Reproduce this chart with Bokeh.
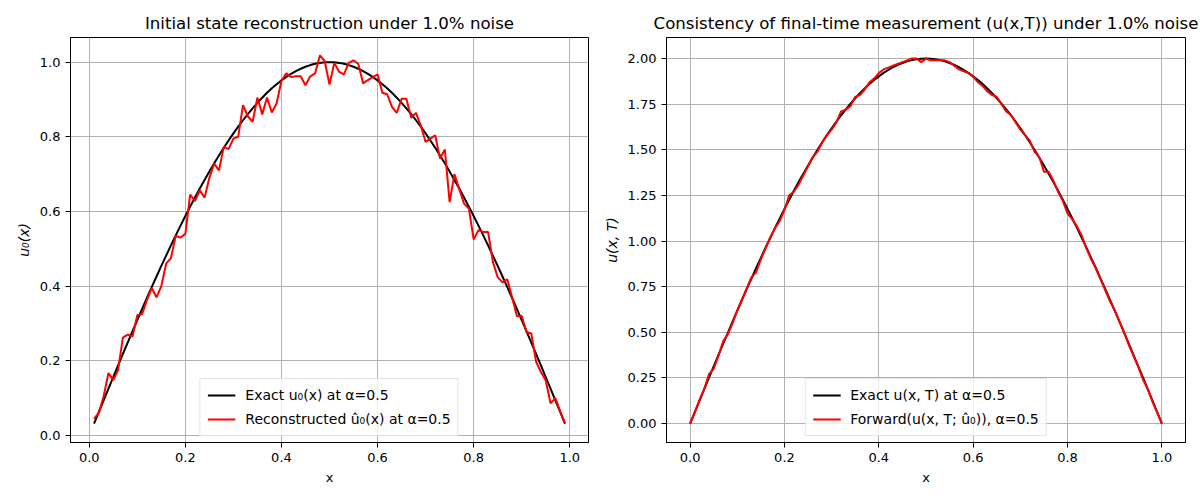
import numpy as np
from bokeh.plotting import figure
from bokeh.layouts import row
from bokeh.models import Range1d, FixedTicker, NumeralTickFormatter, Legend, LegendItem
from bokeh.embed import file_html
from bokeh.resources import INLINE

# ---------------- data ----------------
x_left = [round(0.01 * k, 2) for k in range(1, 100)]
x_right = [round(0.01 * k, 2) for k in range(0, 101)]

exact_u0 = [
    0.0314, 0.0628, 0.0941, 0.1253, 0.1564, 0.1874, 0.2181, 0.2487, 0.2790, 0.3090,
    0.3387, 0.3681, 0.3971, 0.4258, 0.4540, 0.4818, 0.5090, 0.5358, 0.5621, 0.5878,
    0.6129, 0.6374, 0.6613, 0.6845, 0.7071, 0.7290, 0.7501, 0.7705, 0.7902, 0.8090,
    0.8271, 0.8443, 0.8607, 0.8763, 0.8910, 0.9048, 0.9178, 0.9298, 0.9409, 0.9511,
    0.9603, 0.9686, 0.9759, 0.9823, 0.9877, 0.9921, 0.9956, 0.9980, 0.9995, 1.0000,
    0.9995, 0.9980, 0.9956, 0.9921, 0.9877, 0.9823, 0.9759, 0.9686, 0.9603, 0.9511,
    0.9409, 0.9298, 0.9178, 0.9048, 0.8910, 0.8763, 0.8607, 0.8443, 0.8271, 0.8090,
    0.7902, 0.7705, 0.7501, 0.7290, 0.7071, 0.6845, 0.6613, 0.6374, 0.6129, 0.5878,
    0.5621, 0.5358, 0.5090, 0.4818, 0.4540, 0.4258, 0.3971, 0.3681, 0.3387, 0.3090,
    0.2790, 0.2487, 0.2181, 0.1874, 0.1564, 0.1253, 0.0941, 0.0628, 0.0314,
]

recon_u0 = [
    0.045, 0.060, 0.105, 0.167, 0.148, 0.175, 0.262, 0.270, 0.265, 0.322,
    0.325, 0.362, 0.395, 0.370, 0.400, 0.460, 0.475, 0.535, 0.530, 0.540,
    0.645, 0.628, 0.657, 0.637, 0.690, 0.728, 0.710, 0.773, 0.767, 0.795,
    0.800, 0.885, 0.855, 0.840, 0.905, 0.860, 0.905, 0.865, 0.890, 0.950,
    0.970, 0.960, 0.962, 0.962, 0.938, 0.962, 0.970, 1.018, 1.003, 0.940,
    0.998, 0.974, 0.967, 0.998, 1.005, 0.995, 0.943, 0.952, 0.960, 0.967,
    0.918, 0.914, 0.880, 0.864, 0.902, 0.902, 0.851, 0.864, 0.830, 0.786,
    0.795, 0.804, 0.742, 0.766, 0.625, 0.700, 0.660, 0.621, 0.608, 0.525,
    0.550, 0.545, 0.545, 0.465, 0.424, 0.410, 0.418, 0.370, 0.320, 0.320,
    0.277, 0.273, 0.197, 0.170, 0.147, 0.086, 0.100, 0.065, 0.032,
]

exact_uT = [
    0.000, 0.063, 0.126, 0.188, 0.251, 0.313, 0.375, 0.436, 0.497, 0.558,
    0.618, 0.677, 0.736, 0.794, 0.852, 0.908, 0.964, 1.018, 1.072, 1.124,
    1.176, 1.226, 1.275, 1.323, 1.369, 1.414, 1.458, 1.500, 1.541, 1.580,
    1.618, 1.654, 1.689, 1.721, 1.753, 1.782, 1.810, 1.836, 1.860, 1.882,
    1.902, 1.921, 1.937, 1.952, 1.965, 1.975, 1.984, 1.991, 1.996, 1.999,
    2.000, 1.999, 1.996, 1.991, 1.984, 1.975, 1.965, 1.952, 1.937, 1.921,
    1.902, 1.882, 1.860, 1.836, 1.810, 1.782, 1.753, 1.721, 1.689, 1.654,
    1.618, 1.580, 1.541, 1.500, 1.458, 1.414, 1.369, 1.323, 1.275, 1.226,
    1.176, 1.124, 1.072, 1.018, 0.964, 0.908, 0.852, 0.794, 0.736, 0.677,
    0.618, 0.558, 0.497, 0.436, 0.375, 0.313, 0.251, 0.188, 0.126, 0.063,
    0.000,
]

forward_uT = [
    0.000, 0.060, 0.130, 0.190, 0.270, 0.300, 0.370, 0.450, 0.490, 0.550,
    0.620, 0.680, 0.740, 0.800, 0.830, 0.900, 0.960, 1.020, 1.070, 1.110,
    1.170, 1.250, 1.270, 1.310, 1.360, 1.410, 1.460, 1.490, 1.540, 1.580,
    1.610, 1.650, 1.710, 1.720, 1.740, 1.790, 1.800, 1.830, 1.870, 1.890,
    1.920, 1.940, 1.950, 1.960, 1.970, 1.980, 1.990, 2.000, 2.000, 1.980,
    2.000, 1.990, 1.990, 1.990, 1.990, 1.980, 1.960, 1.940, 1.930, 1.920,
    1.900, 1.870, 1.850, 1.820, 1.800, 1.790, 1.750, 1.710, 1.690, 1.650,
    1.610, 1.580, 1.550, 1.490, 1.460, 1.380, 1.380, 1.330, 1.270, 1.220,
    1.150, 1.120, 1.080, 1.030, 0.960, 0.900, 0.850, 0.790, 0.730, 0.670,
    0.620, 0.560, 0.500, 0.430, 0.370, 0.310, 0.240, 0.190, 0.120, 0.060,
    0.000,
]

x_ticks = [0.0, 0.2, 0.4, 0.6, 0.8, 1.0]
y_ticks_left = [0.0, 0.2, 0.4, 0.6, 0.8, 1.0]
y_ticks_right = [0.0, 0.25, 0.5, 0.75, 1.0, 1.25, 1.5, 1.75, 2.0]

FONT = "DejaVu Sans"


def style(p, xlabel, ylabel, yticks, yfmt):
    p.title.text_font = FONT
    p.title.text_font_size = "16.6px"
    p.title.text_font_style = "normal"
    p.title.align = "center"
    p.title.text_color = "black"
    p.outline_line_color = "black"
    p.outline_line_width = 1
    p.background_fill_color = "white"
    p.border_fill_color = "white"
    for ax in (p.xaxis[0], p.yaxis[0]):
        ax.axis_line_color = "black"
        ax.major_tick_out = 5
        ax.major_tick_in = 0
        ax.minor_tick_line_color = None
        ax.major_label_text_font = FONT
        ax.major_label_text_font_size = "13px"
        ax.major_label_text_color = "black"
        ax.axis_label_text_font = FONT
        ax.axis_label_text_font_size = "13px"
        ax.axis_label_text_font_style = "normal"
        ax.axis_label_text_color = "black"
    p.xaxis[0].axis_label = xlabel
    p.yaxis[0].axis_label = ylabel
    p.yaxis[0].axis_label_text_font_style = "italic"
    p.yaxis[0].axis_label_text_font_size = "14px"
    p.xaxis[0].ticker = FixedTicker(ticks=x_ticks)
    p.xaxis[0].formatter = NumeralTickFormatter(format="0.0")
    p.yaxis[0].ticker = FixedTicker(ticks=yticks)
    p.yaxis[0].formatter = NumeralTickFormatter(format=yfmt)
    p.xgrid.grid_line_color = "#b0b0b0"
    p.ygrid.grid_line_color = "#b0b0b0"
    p.xgrid.grid_line_width = 1
    p.ygrid.grid_line_width = 1


def make_legend(p, items):
    leg = Legend(items=items, location="bottom_center")
    leg.label_text_font = FONT
    leg.label_text_font_size = "14px"
    leg.label_text_color = "black"
    leg.border_line_color = "#cccccc"
    leg.border_line_width = 1
    leg.background_fill_alpha = 0.8
    leg.glyph_width = 28
    leg.glyph_height = 18
    leg.label_standoff = 10
    leg.label_height = 18
    leg.padding = 7
    leg.spacing = 6
    leg.margin = 6
    p.add_layout(leg, "center")


# ---------------- left ----------------
p1 = figure(width=600, height=500, output_backend="svg", toolbar_location=None,
            title="Initial state reconstruction under 1.0% noise",
            x_range=Range1d(-0.039, 1.039), y_range=Range1d(-0.019, 1.066),
            min_border_left=70, min_border_right=12, min_border_top=37, min_border_bottom=58)
style(p1, "x", "u₀(x)", y_ticks_left, "0.0")
r1 = p1.line(x_left, exact_u0, line_color="black", line_width=2)
r2 = p1.line(x_left, recon_u0, line_color="red", line_width=2)
make_legend(p1, [LegendItem(label="Exact u₀(x) at α=0.5", renderers=[r1]),
                 LegendItem(label="Reconstructed û₀(x) at α=0.5", renderers=[r2])])

# ---------------- right ----------------
p2 = figure(width=600, height=500, output_backend="svg", toolbar_location=None,
            title="Consistency of final-time measurement (u(x,T)) under 1.0% noise",
            x_range=Range1d(-0.05, 1.05), y_range=Range1d(-0.104, 2.115),
            min_border_left=66, min_border_right=15, min_border_top=37, min_border_bottom=58)
style(p2, "x", "u(x, T)", y_ticks_right, "0.00")
r3 = p2.line(x_right, exact_uT, line_color="black", line_width=2)
r4 = p2.line(x_right, forward_uT, line_color="red", line_width=2)
make_legend(p2, [LegendItem(label="Exact u(x, T) at α=0.5", renderers=[r3]),
                 LegendItem(label="Forward(u(x, T; û₀)), α=0.5", renderers=[r4])])

layout = row(p1, p2)
open("out.html", "w").write(file_html(layout, INLINE))
